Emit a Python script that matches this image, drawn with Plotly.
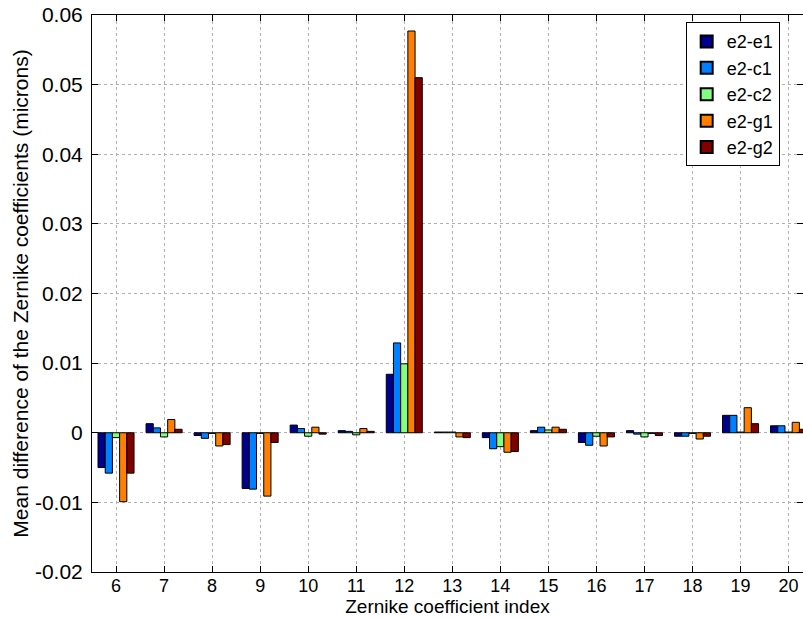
import plotly.graph_objects as go

categories = [6, 7, 8, 9, 10, 11, 12, 13, 14, 15, 16, 17, 18, 19, 20]
series_names = ["e2-e1", "e2-c1", "e2-c2", "e2-g1", "e2-g2"]
e2_e1 = [-0.0050, 0.0013, -0.0004, -0.0080, 0.0011, 0.0003, 0.0084, 0.0001, -0.0007, 0.0003, -0.0014, 0.0003, -0.0005, 0.0025, 0.0010]
e2_c1 = [-0.0058, 0.0007, -0.0008, -0.0081, 0.0006, 0.0002, 0.0129, 0.0001, -0.0023, 0.0008, -0.0018, -0.0002, -0.0005, 0.0025, 0.0010]
e2_c2 = [-0.0007, -0.0006, -0.0001, -0.0001, -0.0005, -0.0003, 0.0099, 0.0001, -0.0020, 0.0004, -0.0005, -0.0006, -0.0001, 0.0001, 0.0001]
e2_g1 = [-0.0099, 0.0019, -0.0019, -0.0091, 0.0008, 0.0006, 0.0577, -0.0006, -0.0028, 0.0008, -0.0019, -0.0001, -0.0009, 0.0036, 0.0015]
e2_g2 = [-0.0058, 0.0005, -0.0017, -0.0014, -0.0002, 0.0002, 0.0510, -0.0007, -0.0027, 0.0005, -0.0006, -0.0004, -0.0005, 0.0013, 0.0005]
colors = ["#00008F", "#0080FF", "#80FF80", "#FF8000", "#800000"]
y_tick_vals = [-0.02, -0.01, 0, 0.01, 0.02, 0.03, 0.04, 0.05, 0.06]
y_tick_text = ["-0.02", "-0.01", "0", "0.01", "0.02", "0.03", "0.04", "0.05", "0.06"]

fig = go.Figure()
for name, vals, col in zip(series_names, [e2_e1, e2_c1, e2_c2, e2_g1, e2_g2], colors):
    fig.add_trace(go.Bar(x=categories, y=vals, name=name,
                         marker=dict(color=col, line=dict(color="black", width=1))))

font_family = "Liberation Sans, Arial, sans-serif"
fig.update_layout(
    width=803, height=618,
    margin=dict(l=92, r=0, t=15, b=46),
    paper_bgcolor="white", plot_bgcolor="white",
    barmode="group", bargap=0.25, bargroupgap=0,
    font=dict(family=font_family, size=19, color="black"),
    showlegend=True,
    legend=dict(x=0.835, y=0.987, xanchor="left", yanchor="top",
                bgcolor="white", bordercolor="black", borderwidth=1,
                font=dict(size=18), tracegroupgap=0, itemsizing="constant"),
    xaxis=dict(range=[5.5, 20.3], tickmode="array", tickvals=categories,
               ticktext=[str(c) for c in categories], automargin=False,
               ticklabelstandoff=-3,
               showline=True, linecolor="black", linewidth=1, mirror="ticks",
               ticks="inside", ticklen=6, tickcolor="black",
               tickfont=dict(size=18),
               showgrid=True, gridcolor="#b0b0b0", griddash="dot", gridwidth=1,
               zeroline=False,
               title=dict(text="Zernike coefficient index", font=dict(size=19), standoff=0)),
    yaxis=dict(range=[-0.02, 0.06], tickmode="array", tickvals=y_tick_vals, ticktext=y_tick_text,
               automargin=False, ticklabelstandoff=4,
               showline=True, linecolor="black", linewidth=1, mirror="ticks",
               ticks="inside", ticklen=6, tickcolor="black",
               tickfont=dict(size=21),
               showgrid=True, gridcolor="#b0b0b0", griddash="dot", gridwidth=1,
               zeroline=False,
               title=dict(text="Mean difference of the Zernike coefficients (microns)", font=dict(size=21), standoff=0)),
)

fig.write_html("out.html", config={"displayModeBar": False},
               post_script="document.body.style.margin='0';document.body.style.overflow='hidden';")
